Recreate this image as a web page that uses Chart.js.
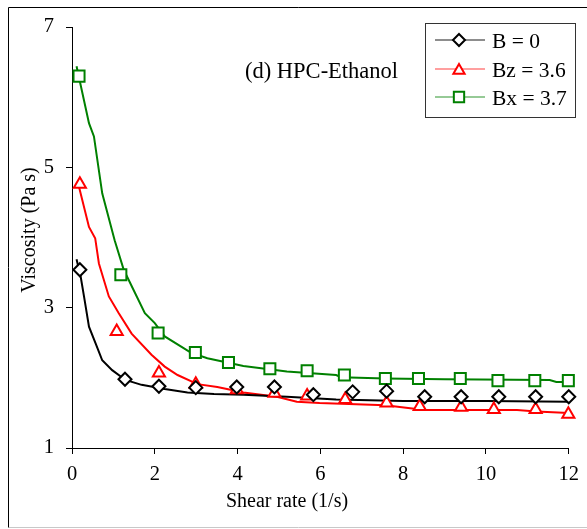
<!DOCTYPE html>
<html>
<head>
<meta charset="utf-8">
<script src="https://cdn.jsdelivr.net/npm/chart.js@4.4.1/dist/chart.umd.min.js"></script>
<style>
html, body { margin: 0; padding: 0; background: #fff; }
canvas { display: block; }
</style>
</head>
<body>
<canvas id="chart" width="587" height="529"></canvas>
<script>
// measured markers
let rateB0 = [0.19, 1.28, 2.1, 2.99, 3.98, 4.89, 5.83, 6.78, 7.6, 8.52, 9.4, 10.31, 11.2, 12.0];
let viscB0 = [3.54, 1.98, 1.88, 1.86, 1.87, 1.87, 1.76, 1.80, 1.81, 1.73, 1.73, 1.73, 1.73, 1.73];
let rateBz = [0.19, 1.08, 2.1, 2.99, 3.98, 4.89, 5.68, 6.6, 7.6, 8.4, 9.4, 10.19, 11.2, 11.99];
let viscBz = [4.76, 2.66, 2.07, 1.91, 1.83, 1.78, 1.74, 1.69, 1.64, 1.59, 1.58, 1.55, 1.55, 1.48];
let rateBx = [0.17, 1.18, 2.08, 2.98, 3.78, 4.78, 5.68, 6.58, 7.57, 8.37, 9.38, 10.29, 11.18, 11.99];
let viscBx = [6.30, 3.47, 2.64, 2.36, 2.22, 2.13, 2.10, 2.04, 1.99, 1.99, 1.99, 1.96, 1.96, 1.96];

// continuous curves
let curveRateB0 = [0.11, 0.21, 0.29, 0.41, 0.57, 0.73, 0.97, 1.29, 1.68, 2.24, 2.79, 3.43, 4.14, 5.19, 6.38, 8, 10, 12];
let curveViscB0 = [3.69, 3.44, 3.16, 2.73, 2.49, 2.25, 2.11, 1.97, 1.90, 1.84, 1.79, 1.77, 1.76, 1.73, 1.69, 1.67, 1.67, 1.66];
let curveRateBz = [0.17, 0.41, 0.56, 0.65, 0.89, 1.13, 1.44, 1.92, 2.24, 2.55, 3.03, 3.51, 3.83, 4.14, 4.95, 5.43, 5.98, 7.57, 8.52, 10.75, 11.22, 12];
let curveViscBz = [4.72, 4.15, 3.99, 3.63, 3.16, 2.92, 2.63, 2.33, 2.16, 2.04, 1.91, 1.87, 1.83, 1.79, 1.73, 1.66, 1.64, 1.61, 1.54, 1.54, 1.52, 1.50];
let curveRateBx = [0.11, 0.41, 0.53, 0.73, 1.03, 1.25, 1.76, 2.0, 2.24, 2.87, 3.27, 4.14, 5.19, 6.38, 6.5, 7.57, 9.0, 11.54, 11.7, 12];
let curveViscBx = [6.44, 5.63, 5.44, 4.63, 3.96, 3.54, 2.92, 2.78, 2.59, 2.36, 2.28, 2.17, 2.09, 2.04, 2.01, 1.99, 1.98, 1.97, 1.94, 1.94];

let seriesNames = ['B = 0', 'Bz = 3.6', 'Bx = 3.7'];
let xTicks = [0, 2, 4, 6, 8, 10, 12];
let yTicks = [1, 3, 5, 7];

let serif = "'Liberation Serif', 'Times New Roman', serif";
let colors = ['#000000', '#ff0000', '#008000'];
let lightColors = ['rgba(0,0,0,0.6)', 'rgba(255,0,0,0.5)', 'rgba(0,128,0,0.55)'];
let shapes = ['rectRot', 'triangle', 'rect'];
let radii = [6.5, 7, 7.8];

let zip = function(xs, ys) {
    return xs.map((x, i) => ({x: x, y: ys[i]}));
};

let curveSet = function(xs, ys, i) {
    return {
        label: seriesNames[i] + ' curve',
        data: zip(xs, ys),
        borderColor: colors[i],
        borderWidth: 2,
        pointRadius: 0,
        showLine: true,
        tension: 0,
        order: 2,
    };
};

let markSet = function(xs, ys, i) {
    return {
        label: seriesNames[i],
        data: zip(xs, ys),
        showLine: false,
        pointStyle: shapes[i],
        pointRadius: radii[i],
        pointBorderWidth: 2,
        pointBorderColor: colors[i],
        pointBackgroundColor: '#fff',
        clip: false,
        order: 1,
    };
};

// hollow legend marker, same shapes as chart.js draws
let legendMark = function(ctx, i, x, y) {
    let r = radii[i] - 0.5;
    ctx.fillStyle = '#fff';
    ctx.strokeStyle = colors[i];
    ctx.lineWidth = 2;
    ctx.beginPath();
    if (shapes[i] === 'rectRot') {
        ctx.moveTo(x, y - r); ctx.lineTo(x + r, y); ctx.lineTo(x, y + r); ctx.lineTo(x - r, y);
    } else if (shapes[i] === 'triangle') {
        ctx.moveTo(x, y - r); ctx.lineTo(x + r * 0.866, y + r * 0.5); ctx.lineTo(x - r * 0.866, y + r * 0.5);
    } else {
        let s = r * Math.SQRT1_2;
        ctx.rect(x - s, y - s, 2 * s, 2 * s);
    }
    ctx.closePath();
    ctx.fill();
    ctx.stroke();
};

let decor = {
    id: 'decor',
    beforeDraw: function(chart) {
        let ctx = chart.ctx;
        ctx.save();
        ctx.fillStyle = '#fff';
        ctx.fillRect(0, 0, chart.width, chart.height);
        ctx.strokeStyle = '#000';
        ctx.lineWidth = 1;
        ctx.beginPath();
        ctx.moveTo(600, 7.5);
        ctx.lineTo(8.5, 7.5);
        ctx.lineTo(8.5, 527.5);
        ctx.stroke();
        ctx.strokeStyle = '#c8c8c8';
        ctx.beginPath();
        ctx.moveTo(9, 527.5);
        ctx.lineTo(600, 527.5);
        ctx.stroke();
        ctx.restore();
    },
    afterDraw: function(chart) {
        let ctx = chart.ctx;
        ctx.save();
        ctx.fillStyle = '#000';
        ctx.textBaseline = 'alphabetic';

        // axis titles
        ctx.font = '20px ' + serif;
        ctx.textAlign = 'center';
        ctx.fillText('Shear rate (1/s)', 287, 507);
        ctx.save();
        ctx.translate(35, 230);
        ctx.rotate(-Math.PI / 2);
        ctx.fillText('Viscosity (Pa s)', 0, 0);
        ctx.restore();

        // panel label
        ctx.font = '22.5px ' + serif;
        ctx.textAlign = 'left';
        ctx.fillText('(d) HPC-Ethanol', 245, 78);

        // legend
        ctx.strokeStyle = '#333';
        ctx.lineWidth = 1;
        ctx.strokeRect(425.5, 23.5, 150, 94);
        ctx.font = '21.5px ' + serif;
        let rows = [40, 69, 97];
        rows.forEach((y, i) => {
            ctx.strokeStyle = lightColors[i];
            ctx.lineWidth = 1.5;
            ctx.beginPath();
            ctx.moveTo(435, y);
            ctx.lineTo(485, y);
            ctx.stroke();
            legendMark(ctx, i, 459, y + (i === 1 ? 1.5 : 0));
            ctx.fillStyle = '#000';
            ctx.fillText(seriesNames[i], 492, y + 7.5);
        });
        ctx.restore();
    }
};

let ctx = document.getElementById('chart').getContext('2d');
let chart = new Chart(ctx, {
    type: 'scatter',
    data: {
        datasets: [
            curveSet(curveRateB0, curveViscB0, 0),
            curveSet(curveRateBz, curveViscBz, 1),
            curveSet(curveRateBx, curveViscBx, 2),
            markSet(rateB0, viscB0, 0),
            markSet(rateBz, viscBz, 1),
            markSet(rateBx, viscBx, 2),
        ]
    },
    options: {
        responsive: false,
        animation: false,
        layout: {
            padding: {left: 0, top: 27, right: 11, bottom: 0}
        },
        plugins: {
            legend: {display: false},
            tooltip: {enabled: false},
        },
        scales: {
            x: {
                type: 'linear',
                min: 0,
                max: 12,
                afterBuildTicks: function(scale) {
                    scale.ticks = xTicks.map(v => ({value: v}));
                },
                afterFit: function(scale) {
                    scale.height = 81;
                },
                ticks: {
                    color: '#000',
                    font: {family: serif, size: 20.5},
                    padding: 8,
                    maxRotation: 0,
                },
                grid: {
                    drawOnChartArea: false,
                    drawTicks: true,
                    tickLength: 6,
                    color: '#000',
                },
                border: {color: '#000', width: 1},
            },
            y: {
                type: 'linear',
                min: 1,
                max: 7,
                afterBuildTicks: function(scale) {
                    scale.ticks = yTicks.map(v => ({value: v}));
                },
                afterFit: function(scale) {
                    scale.width = 72;
                },
                ticks: {
                    color: '#000',
                    font: {family: serif, size: 20.5},
                    padding: 12,
                },
                grid: {
                    drawOnChartArea: false,
                    drawTicks: true,
                    tickLength: 6,
                    color: '#000',
                },
                border: {color: '#000', width: 1},
            },
        }
    },
    plugins: [decor]
});
</script>
</body>
</html>
